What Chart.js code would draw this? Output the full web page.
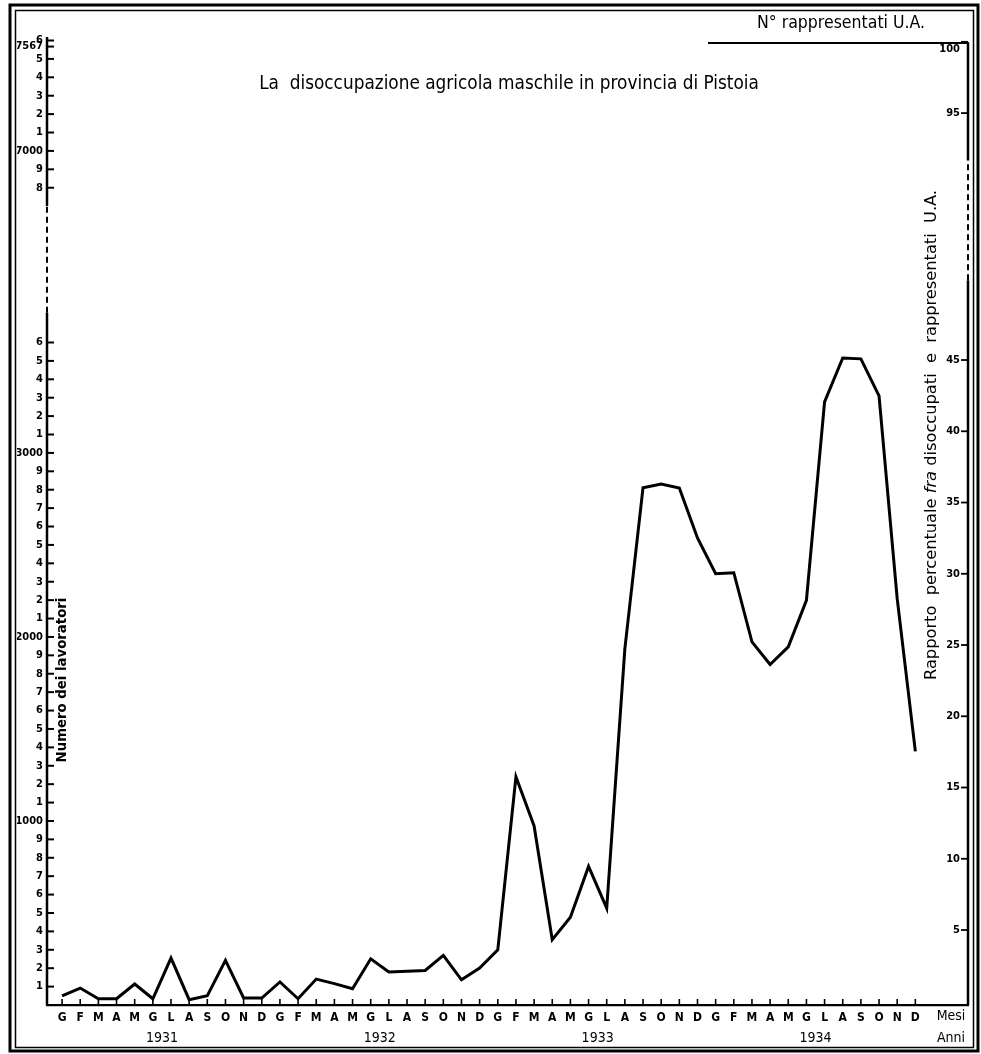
<!DOCTYPE html>
<html><head><meta charset="utf-8">
<script src="https://cdn.jsdelivr.net/npm/chart.js@4.4.1/dist/chart.umd.min.js"></script>
<style>html,body{margin:0;padding:0;background:#fff;}#wrap{width:981px;height:1054px;position:relative;}</style>
</head><body><div id="wrap"><canvas id="c" width="981" height="1054"></canvas></div>
<script>
// ---- data ----
const monthLabels = ['G','F','M','A','M','G','L','A','S','O','N','D'];
const years = ['1931','1932','1933','1934'];
const workers1931 = [50, 92, 34, 34, 114, 34, 255, 29, 51, 243, 38, 38];
const workers1932 = [125, 34, 141, 116, 88, 251, 179, 183, 188, 270, 137, 201];
const workers1933 = [300, 1240, 973, 355, 477, 753, 526, 1937, 2811, 2831, 2809, 2538];
const workers1934 = [2344, 2349, 1973, 1850, 1946, 2199, 3277, 3516, 3511, 3310, 2208, 1378];
const leftTicksLower = [100,200,300,400,500,600,700,800,900,1000,1100,1200,1300,1400,1500,1600,1700,1800,1900,2000,2100,2200,2300,2400,2500,2600,2700,2800,2900,3000,3100,3200,3300,3400,3500,3600];
const leftTicksUpper = [6800,6900,7000,7100,7200,7300,7400,7500,7567,7600];
const rightTicksLower = [5,10,15,20,25,30,35,40,45];
const rightTicksUpper = [95,100];
const leftUpperShift = 2359;   // axis break on the workers scale
const rightUpperShift = 32.67; // axis break on the percentage scale

const workers = [].concat(workers1931, workers1932, workers1933, workers1934);
const monthCats = years.flatMap(() => monthLabels);

const FAM = '"DejaVu Sans Condensed","DejaVu Sans",sans-serif';

function leftLabel(real){
  if (real === 7567) return '7567';
  if (real % 1000 === 0) return String(real);
  return String(Math.round(real/100) % 10);
}
function rightLabel(v){
  return String(v > 50 ? Math.round(v + rightUpperShift) : Math.round(v));
}

function fitText(ctx, text, target, base, weight){
  ctx.font = `${weight||''} ${base}px ${FAM}`;
  const w = ctx.measureText(text).width;
  const size = base * target / w;
  ctx.font = `${weight||''} ${size.toFixed(2)}px ${FAM}`;
  return size;
}

const decor = {
  id:'decor',
  beforeDraw(chart){
    const c = chart.ctx;
    c.save(); c.fillStyle='#fff'; c.fillRect(0,0,chart.width,chart.height); c.restore();
  },
  afterDraw(chart){
    const c = chart.ctx;
    const xs = chart.scales.x, ys = chart.scales.y, y2 = chart.scales.y2;
    const area = chart.chartArea;
    c.save();
    c.strokeStyle = '#000'; c.fillStyle = '#000';
    // frame
    c.lineWidth = 3; c.strokeRect(10, 5, 968, 1046);
    c.lineWidth = 1.5; c.strokeRect(15.5, 10.5, 958, 1037);
    // left axis line with dashed break
    const lx = area.left;
    const lBreakLo = ys.getPixelForValue(3761), lBreakHi = ys.getPixelForValue(4342);
    c.lineWidth = 2.5;
    c.beginPath(); c.moveTo(lx, area.bottom); c.lineTo(lx, lBreakLo); c.stroke();
    c.beginPath(); c.moveTo(lx, lBreakHi); c.lineTo(lx, area.top); c.stroke();
    c.setLineDash([6,4]); c.lineWidth = 2;
    c.beginPath(); c.moveTo(lx, lBreakLo); c.lineTo(lx, lBreakHi); c.stroke();
    c.setLineDash([]);
    // left ticks (inward)
    c.lineWidth = 2;
    ys.ticks.forEach(t => {
      const p = ys.getPixelForValue(t.value);
      c.beginPath(); c.moveTo(lx, p); c.lineTo(lx+7, p); c.stroke();
    });
    // right axis
    const rx = area.right;
    const rBreakLo = y2.getPixelForValue(50.6), rBreakHi = y2.getPixelForValue(59.0);
    c.lineWidth = 2.5;
    c.beginPath(); c.moveTo(rx, area.bottom); c.lineTo(rx, rBreakLo); c.stroke();
    c.beginPath(); c.moveTo(rx, rBreakHi); c.lineTo(rx, 43); c.stroke();
    c.setLineDash([6,4]); c.lineWidth = 2;
    c.beginPath(); c.moveTo(rx, rBreakLo); c.lineTo(rx, rBreakHi); c.stroke();
    c.setLineDash([]);
    c.lineWidth = 1.8;
    c.font = `bold 11px ${FAM}`; c.textAlign = 'right'; c.textBaseline = 'middle';
    y2.ticks.forEach(t => {
      const p = y2.getPixelForValue(t.value);
      c.beginPath(); c.moveTo(rx, p); c.lineTo(rx-7, p); c.stroke();
      const lab = rightLabel(t.value);
      c.fillText(lab, rx-8, lab === '100' ? p + 7 : p);
    });
    // header line
    c.lineWidth = 2;
    c.beginPath(); c.moveTo(708, 43); c.lineTo(rx+1, 43); c.stroke();
    // x ticks (upward)
    c.lineWidth = 1.6;
    xs.ticks.forEach(t => {
      const p = xs.getPixelForValue(t.value);
      c.beginPath(); c.moveTo(p, area.bottom); c.lineTo(p, area.bottom-6); c.stroke();
    });
    // year labels
    c.textAlign = 'center'; c.textBaseline = 'middle';
    c.font = `14px ${FAM}`;
    years.forEach((yr, k) => {
      c.fillText(yr, xs.getPixelForValue(5.5 + 12*k), 1038);
    });
    c.font = `14px ${FAM}`;
    c.fillText('Mesi', 951, 1016);
    c.fillText('Anni', 951, 1038);
    // title
    fitText(c, 'La  disoccupazione agricola maschile in provincia di Pistoia', 500, 18, '');
    c.fillText('La  disoccupazione agricola maschile in provincia di Pistoia', 509, 84);
    fitText(c, 'N° rappresentati U.A.', 168, 15, '');
    c.fillText('N° rappresentati U.A.', 841, 23);
    // left axis title
    c.save();
    c.translate(62, 680); c.rotate(-Math.PI/2);
    fitText(c, 'Numero dei lavoratori', 165, 13, 'bold');
    c.fillText('Numero dei lavoratori', 0, 0);
    c.restore();
    // right axis title (with italic "fra")
    c.save();
    c.translate(932, 435); c.rotate(-Math.PI/2);
    const p1 = 'Rapporto  percentuale ', p2 = 'fra', p3 = ' disoccupati  e  rappresentati  U.A.';
    const fs = 15;
    c.font = `${fs}px ${FAM}`; const w1 = c.measureText(p1).width, w3 = c.measureText(p3).width;
    c.font = `italic ${fs}px ${FAM}`; const w2 = c.measureText(p2).width;
    const total = w1+w2+w3, sc = 490/total;
    c.scale(sc, 1);
    let x0 = -total/2;
    c.textAlign = 'left';
    c.font = `${fs}px ${FAM}`; c.fillText(p1, x0, 0);
    c.font = `italic ${fs}px ${FAM}`; c.fillText(p2, x0+w1, 0);
    c.font = `${fs}px ${FAM}`; c.fillText(p3, x0+w1+w2, 0);
    c.restore();
    c.restore();
  }
};

new Chart(document.getElementById('c').getContext('2d'), {
  type: 'line',
  data: { datasets: [{
    data: workers.map((v, i) => ({x: i, y: v})),
    borderColor: '#000', borderWidth: 3, pointRadius: 0, tension: 0,
    borderJoinStyle: 'miter', fill: false, yAxisID: 'y', xAxisID: 'x'
  }]},
  options: {
    responsive: false, animation: false, devicePixelRatio: 1,
    layout: { padding: { left: 17, right: 13, top: 37, bottom: 1 } },
    plugins: { legend: {display: false}, tooltip: {enabled: false}, title: {display: false} },
    scales: {
      x: {
        type: 'linear', min: -0.83, max: 49.9,
        afterBuildTicks: s => { s.ticks = monthCats.map((m, i) => ({value: i})); },
        afterFit: s => { s.height = 48; },
        grid: {display: false, drawTicks: false},
        border: {display: true, color: '#000', width: 2.2},
        ticks: { autoSkip: false, maxRotation: 0, padding: 6, color: '#000',
          font: {family: FAM, weight: 'bold', size: 12},
          callback: v => monthCats[v] }
      },
      y: {
        type: 'linear', position: 'left', min: 0, max: 5260,
        afterBuildTicks: s => { s.ticks = leftTicksLower.map(v => ({value: v}))
            .concat(leftTicksUpper.map(v => ({value: v - leftUpperShift}))); },
        afterFit: s => { s.width = 30; },
        grid: {display: false, drawTicks: false},
        border: {display: false},
        ticks: { autoSkip: false, padding: 4, color: '#000',
          font: {family: FAM, weight: 'bold', size: 11},
          callback: v => leftLabel(v > 3700 ? Math.round(v + leftUpperShift) : Math.round(v)) }
      },
      y2: {
        type: 'linear', position: 'right', min: -0.263, max: 67.67,
        afterBuildTicks: s => { s.ticks = rightTicksLower.map(v => ({value: v}))
            .concat(rightTicksUpper.map(v => ({value: v - rightUpperShift}))); },
        afterFit: s => { s.width = 0; },
        grid: {display: false, drawTicks: false},
        border: {display: false},
        ticks: { display: false, autoSkip: false }
      }
    }
  },
  plugins: [decor]
});
</script></body></html>
